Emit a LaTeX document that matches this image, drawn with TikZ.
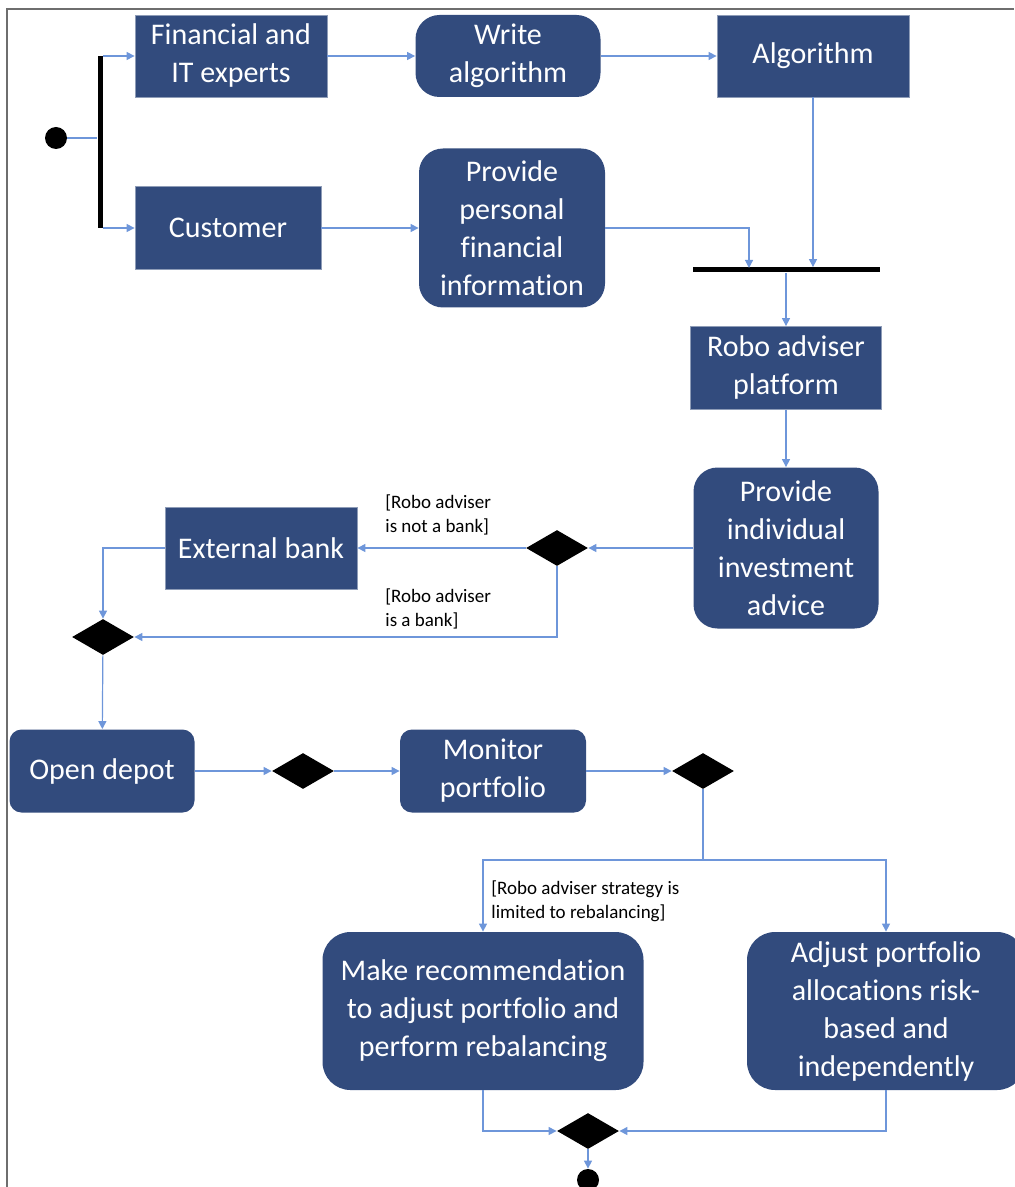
\documentclass[tikz,border=0pt]{standalone}
\usepackage{fontspec}
\setmainfont{Carlito}[Ligatures=NoCommon]
\usetikzlibrary{arrows.meta,shapes.geometric}
\definecolor{boxblue}{RGB}{50,75,125}
\definecolor{linkblue}{RGB}{110,150,218}
\definecolor{framegrey}{RGB}{110,110,110}
\tikzset{
  box/.style={draw=boxblue!55!white, fill=boxblue, text=white, inner sep=0pt, align=center, font=\fontsize{15}{19}\selectfont},
  rbox/.style={box, draw=none, rounded corners=12pt},
  cond/.style={diamond, fill=black, inner sep=0pt, minimum width=31pt, minimum height=18pt},
  bar/.style={fill=black, inner sep=0pt},
  guard/.style={font=\fontsize{9.5}{12}\selectfont, align=left, inner sep=0pt, anchor=west},
  flow/.style={draw=linkblue, line width=0.6pt, -{Triangle[length=4pt,width=4pt]}},
  link/.style={draw=linkblue, line width=0.6pt},
}
\begin{document}
\begin{tikzpicture}[x=0.5pt, y=-0.5pt]
\useasboundingbox (0,0) rectangle (1014,1187);
\draw [framegrey, line width=1pt] (7,1187) -- (7,9) -- (1014,9);

\node [circle, fill=black, minimum size=11pt, inner sep=0pt] (0) at (56,138) {};
\node [bar, minimum width=2.5pt, minimum height=86pt] (1) at (100,142) {};
\node [box, minimum width=96pt, minimum height=41pt] (2) at (231,56) {Financial and\\IT experts};
\node [box, minimum width=93pt, minimum height=41.5pt] (3) at (228,228) {Customer};
\node [rbox, minimum width=92.5pt, minimum height=41pt] (4) at (508,56) {Write\\algorithm};
\node [box, minimum width=96pt, minimum height=41pt] (5) at (813,56) {Algorithm};
\node [rbox, minimum width=93pt, minimum height=79.5pt] (6) at (512,228) {Provide\\personal\\financial\\information};
\node [bar, minimum width=93.5pt, minimum height=2.5pt] (7) at (786,270) {};
\coordinate (j1) at (749,268);
\node [box, minimum width=95.5pt, minimum height=41.5pt] (8) at (786,368) {Robo adviser\\platform};
\node [rbox, minimum width=92.5pt, minimum height=80.5pt] (9) at (786,548) {Provide\\individual\\investment\\advice};
\node [cond] (10) at (557,548) {};
\node [box, minimum width=96pt, minimum height=41pt] (11) at (261,548) {External bank};
\node [cond] (12) at (103,637) {};
\node [rbox, minimum width=92.5pt, minimum height=41.5pt, rounded corners=6pt] (13) at (102,771) {Open depot};
\node [cond] (14) at (303,771) {};
\node [rbox, minimum width=93pt, minimum height=41.5pt, rounded corners=6pt] (15) at (493,771) {Monitor\\portfolio};
\node [cond] (16) at (703,771) {};
\coordinate (sp) at (703,860);
\node [rbox, minimum width=160.5pt, minimum height=79pt, rounded corners=14pt] (17) at (483,1011) {Make recommendation\\to adjust portfolio and\\perform rebalancing};
\node [rbox, minimum width=139pt, minimum height=79pt, rounded corners=14pt] (18) at (886,1011) {Adjust portfolio\\allocations risk-\\based and\\independently};
\node [cond] (19) at (588,1131) {};
\node [circle, fill=black, minimum size=11pt, inner sep=0pt] (20) at (588,1180) {};

\node [guard] (21) at (385,515) {[Robo adviser\\is not a bank]};
\node [guard] (22) at (385,609) {[Robo adviser\\is a bank]};
\node [guard] (23) at (491,901) {[Robo adviser strategy is\\limited to rebalancing]};

\draw [link] (0.east) to (0 -| 1.west);
\draw [flow] (2.west -| 1.east) to (2.west);
\draw [flow] (3.west -| 1.east) to (3.west);
\draw [flow] (2) to (4);
\draw [flow] (4) to (5);
\draw [flow] (3) to (6);
\draw [flow] (6.east) -| (j1);
\draw [flow] (5.south) to (5.south |- 7.north);
\draw [flow] (7) to (8);
\draw [flow] (8) to (9);
\draw [flow] (9) to (10);
\draw [flow] (10) to (11);
\draw [flow] (11.west) -| (12.north);
\draw [flow] (10.south) |- (12.east);
\draw [flow] (12) to (13);
\draw [flow] (13) to (14);
\draw [flow] (14) to (15);
\draw [flow] (15) to (16);
\draw [link] (16.south) to (sp);
\draw [flow] (sp) -| (17.north);
\draw [flow] (sp) -| (18.north);
\draw [flow] (17.south) |- (19.west);
\draw [flow] (18.south) |- (19.east);
\draw [flow] (19) to (20);
\end{tikzpicture}
\end{document}
